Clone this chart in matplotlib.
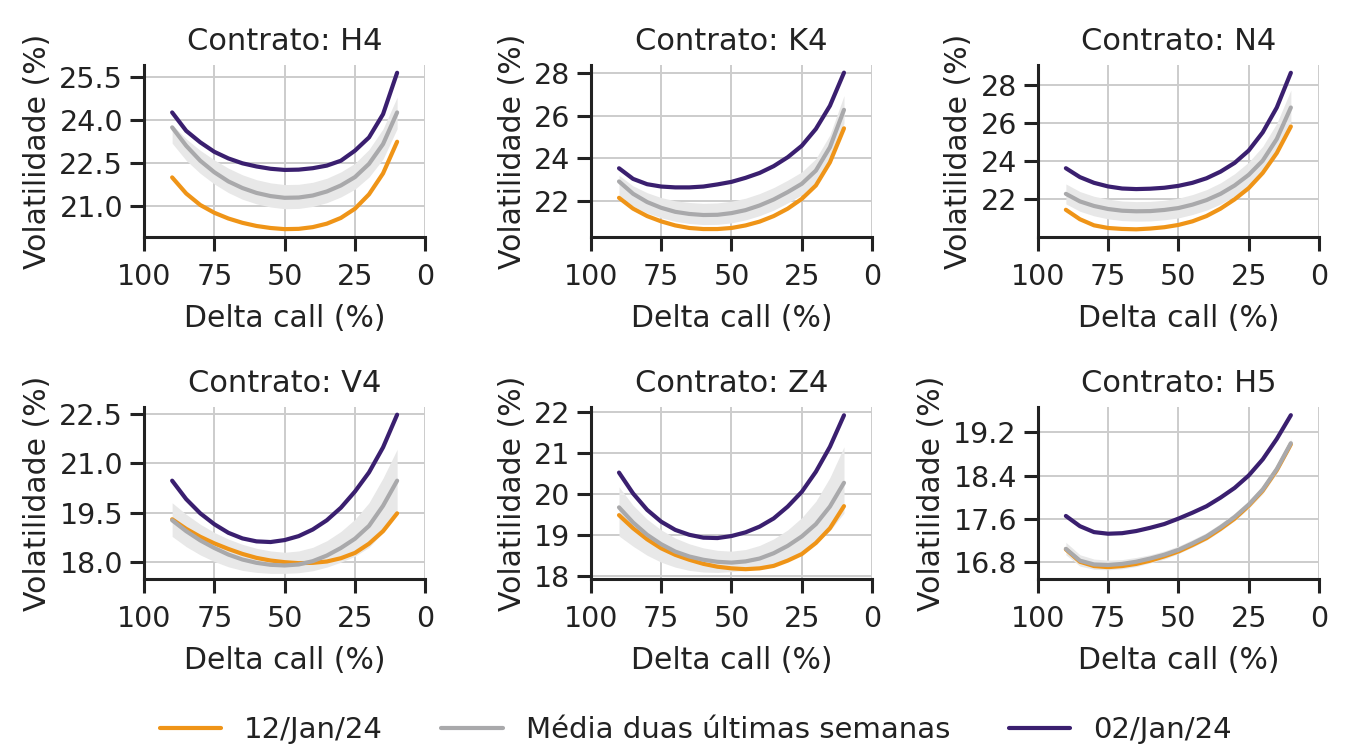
import numpy as np
import matplotlib
matplotlib.use("Agg")
import matplotlib.pyplot as plt
from matplotlib.ticker import FormatStrFormatter

# delta call (%) grid, read every 5 points from the chart
delta = [90, 85, 80, 75, 70, 65, 60, 55, 50, 45, 40, 35, 30, 25, 20, 15, 10]

contratos = ["H4", "K4", "N4", "V4", "Z4", "H5"]

vol_atual = {  # 12/Jan/24
    "H4": [22.01, 21.45, 21.05, 20.78, 20.58, 20.43, 20.32, 20.25, 20.21, 20.22, 20.28, 20.40, 20.60, 20.92, 21.42, 22.15, 23.25],
    "K4": [22.14, 21.63, 21.28, 21.03, 20.84, 20.72, 20.67, 20.67, 20.72, 20.84, 21.02, 21.28, 21.63, 22.09, 22.72, 23.81, 25.41],
    "N4": [21.44, 20.94, 20.62, 20.48, 20.43, 20.41, 20.45, 20.52, 20.64, 20.83, 21.11, 21.50, 21.99, 22.58, 23.38, 24.43, 25.83],
    "V4": [19.30, 19.01, 18.77, 18.57, 18.40, 18.25, 18.13, 18.05, 18.00, 17.97, 17.98, 18.02, 18.12, 18.28, 18.56, 18.94, 19.48],
    "Z4": [19.48, 19.16, 18.89, 18.67, 18.51, 18.39, 18.29, 18.22, 18.18, 18.16, 18.18, 18.24, 18.37, 18.53, 18.80, 19.16, 19.70],
    "H5": [17.03, 16.80, 16.72, 16.70, 16.72, 16.76, 16.82, 16.90, 16.99, 17.11, 17.24, 17.41, 17.60, 17.84, 18.12, 18.50, 18.98],
}

vol_media = {  # media duas ultimas semanas
    "H4": [23.75, 23.11, 22.59, 22.19, 21.87, 21.64, 21.47, 21.36, 21.30, 21.31, 21.38, 21.52, 21.73, 22.02, 22.48, 23.17, 24.27],
    "K4": [22.91, 22.33, 21.94, 21.67, 21.48, 21.38, 21.33, 21.34, 21.42, 21.56, 21.78, 22.06, 22.41, 22.80, 23.42, 24.52, 26.28],
    "N4": [22.28, 21.88, 21.64, 21.48, 21.39, 21.36, 21.37, 21.43, 21.53, 21.71, 21.95, 22.28, 22.72, 23.28, 24.03, 25.17, 26.83],
    "V4": [19.27, 18.94, 18.66, 18.43, 18.23, 18.08, 17.98, 17.92, 17.90, 17.93, 18.03, 18.20, 18.43, 18.71, 19.10, 19.71, 20.47],
    "Z4": [19.67, 19.30, 19.00, 18.77, 18.59, 18.47, 18.39, 18.34, 18.32, 18.35, 18.42, 18.55, 18.73, 18.96, 19.26, 19.69, 20.27],
    "H5": [17.04, 16.82, 16.75, 16.74, 16.76, 16.80, 16.86, 16.93, 17.02, 17.14, 17.27, 17.44, 17.63, 17.86, 18.14, 18.52, 19.00],
}

banda_sup = {
    "H4": [23.85, 23.35, 22.95, 22.62, 22.33, 22.10, 21.93, 21.82, 21.76, 21.77, 21.84, 21.98, 22.20, 22.50, 22.98, 23.70, 24.80],
    "K4": [23.20, 22.70, 22.38, 22.15, 22.00, 21.92, 21.88, 21.90, 21.98, 22.12, 22.34, 22.62, 22.97, 23.36, 23.98, 25.10, 26.95],
    "N4": [22.80, 22.40, 22.15, 22.00, 21.90, 21.87, 21.88, 21.94, 22.05, 22.24, 22.50, 22.86, 23.34, 23.95, 24.78, 26.00, 27.75],
    "V4": [19.80, 19.45, 19.15, 18.90, 18.70, 18.54, 18.42, 18.34, 18.30, 18.34, 18.45, 18.65, 18.93, 19.30, 19.80, 20.55, 21.42],
    "Z4": [20.17, 19.72, 19.38, 19.12, 18.92, 18.78, 18.68, 18.62, 18.60, 18.64, 18.74, 18.90, 19.12, 19.42, 19.82, 20.40, 21.15],
    "H5": [17.16, 16.93, 16.85, 16.83, 16.84, 16.88, 16.93, 17.00, 17.09, 17.21, 17.34, 17.51, 17.70, 17.93, 18.22, 18.60, 19.08],
}

banda_inf = {
    "H4": [23.20, 22.60, 22.15, 21.78, 21.48, 21.25, 21.09, 20.98, 20.92, 20.93, 21.00, 21.13, 21.33, 21.60, 22.02, 22.65, 23.70],
    "K4": [22.25, 21.75, 21.42, 21.20, 21.03, 20.93, 20.88, 20.89, 20.96, 21.10, 21.30, 21.56, 21.90, 22.28, 22.88, 23.95, 25.65],
    "N4": [21.75, 21.36, 21.12, 20.96, 20.87, 20.84, 20.85, 20.91, 21.01, 21.19, 21.42, 21.74, 22.15, 22.68, 23.38, 24.45, 26.10],
    "V4": [18.78, 18.47, 18.22, 18.02, 17.86, 17.75, 17.69, 17.66, 17.66, 17.68, 17.74, 17.85, 18.00, 18.18, 18.45, 18.90, 19.50],
    "Z4": [18.97, 18.72, 18.50, 18.33, 18.21, 18.13, 18.09, 18.08, 18.10, 18.13, 18.20, 18.30, 18.42, 18.58, 18.80, 19.10, 19.53],
    "H5": [16.93, 16.72, 16.66, 16.65, 16.67, 16.71, 16.78, 16.85, 16.95, 17.07, 17.20, 17.37, 17.56, 17.79, 18.06, 18.44, 18.92],
}

vol_antiga = {  # 02/Jan/24
    "H4": [24.27, 23.63, 23.23, 22.90, 22.67, 22.50, 22.39, 22.31, 22.27, 22.28, 22.33, 22.42, 22.59, 22.94, 23.40, 24.21, 25.65],
    "K4": [23.53, 23.03, 22.78, 22.67, 22.63, 22.63, 22.67, 22.77, 22.89, 23.08, 23.31, 23.63, 24.05, 24.59, 25.38, 26.47, 28.03],
    "N4": [23.63, 23.16, 22.86, 22.67, 22.56, 22.53, 22.55, 22.60, 22.70, 22.86, 23.10, 23.45, 23.91, 24.56, 25.52, 26.83, 28.66],
    "V4": [20.47, 19.91, 19.48, 19.15, 18.89, 18.72, 18.63, 18.61, 18.67, 18.79, 18.99, 19.27, 19.65, 20.14, 20.72, 21.48, 22.47],
    "Z4": [20.52, 20.01, 19.61, 19.32, 19.12, 19.00, 18.93, 18.92, 18.97, 19.06, 19.20, 19.40, 19.69, 20.05, 20.54, 21.15, 21.92],
    "H5": [17.65, 17.46, 17.35, 17.32, 17.33, 17.37, 17.43, 17.50, 17.60, 17.71, 17.83, 17.99, 18.17, 18.40, 18.70, 19.08, 19.52],
}

y_ticks = {
    "H4": [21.0, 22.5, 24.0, 25.5],
    "K4": [22, 24, 26, 28],
    "N4": [22, 24, 26, 28],
    "V4": [18.0, 19.5, 21.0, 22.5],
    "Z4": [18, 19, 20, 21, 22],
    "H5": [16.8, 17.6, 18.4, 19.2],
}
y_fmt = {"H4": "%.1f", "K4": "%d", "N4": "%d", "V4": "%.1f", "Z4": "%d", "H5": "%.1f"}
y_lim = {
    "H4": (19.94, 25.92), "K4": (20.30, 28.39), "N4": (20.01, 29.07),
    "V4": (17.49, 22.70), "Z4": (17.92, 22.12), "H5": (16.48, 19.67),
}

x_ticks = [100, 75, 50, 25, 0]

cor_atual = "#ef9417"
cor_media = "#a9a9ab"
cor_antiga = "#3a1f6f"
cor_texto = "#222222"

plt.rcParams["font.family"] = ["DejaVu Sans"]
plt.rcParams["text.color"] = cor_texto
plt.rcParams["axes.labelcolor"] = cor_texto
plt.rcParams["xtick.color"] = cor_texto
plt.rcParams["ytick.color"] = cor_texto

fig, axes = plt.subplots(2, 3, figsize=(13.51, 7.54), dpi=100)
fig.subplots_adjust(left=0.1066, right=0.9763, top=0.9138, bottom=0.2321,
                    wspace=0.589, hspace=0.99)

for ax, c in zip(axes.flat, contratos):
    ax.fill_between(delta, banda_inf[c], banda_sup[c], color="#e8e8e8", lw=0, zorder=2)
    kw = dict(lw=3.0, solid_joinstyle="round", solid_capstyle="round")
    ax.plot(delta, vol_atual[c], color=cor_atual, zorder=3, label="12/Jan/24", **kw)
    ax.plot(delta, vol_media[c], color=cor_media, zorder=3, label="Média duas últimas semanas", **kw)
    ax.plot(delta, vol_antiga[c], color=cor_antiga, zorder=4, label="02/Jan/24", **kw)

    ax.set_xlim(100, 0)
    ax.set_xticks(x_ticks)
    ax.set_ylim(*y_lim[c])
    ax.set_yticks(y_ticks[c])
    ax.yaxis.set_major_formatter(FormatStrFormatter(y_fmt[c]))

    ax.grid(True, color="#cccccc", lw=1.4, zorder=0)
    ax.set_axisbelow(True)
    for s in ["top", "right"]:
        ax.spines[s].set_visible(False)
    for s in ["left", "bottom"]:
        ax.spines[s].set_linewidth(2.2)
        ax.spines[s].set_color(cor_texto)
    ax.tick_params(axis="x", length=10, width=2.2, pad=9, labelsize=20.5)
    ax.tick_params(axis="y", length=10, width=2.2, pad=5, labelsize=20.5)

    ax.set_title(f"Contrato: {c}", fontsize=22, pad=11)
    ax.set_xlabel("Delta call (%)", fontsize=21.5, labelpad=9)
    ax.set_ylabel("Volatilidade (%)", fontsize=21.5, labelpad=5)

handles, labels = axes[0, 0].get_legend_handles_labels()
fig.legend(handles, labels, loc="lower center", ncol=3, frameon=False,
           fontsize=21, handlelength=2.1, handletextpad=0.8, columnspacing=2.0,
           bbox_to_anchor=(0.515, -0.022))

fig.savefig("out.png", dpi=100)
